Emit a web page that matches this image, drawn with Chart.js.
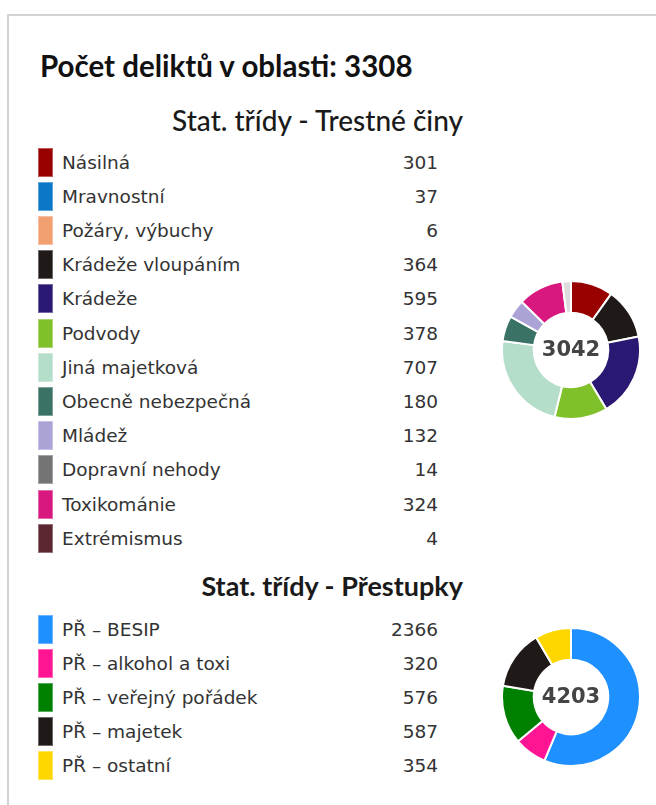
<!DOCTYPE html>
<html>
<head>
<meta charset="utf-8">
<script src="https://cdn.jsdelivr.net/npm/chart.js@4.4.0/dist/chart.umd.min.js"></script>
<style>
  html,body{margin:0;padding:0;background:#fff;}
  body{width:656px;height:805px;overflow:hidden;position:relative;font-family:"DejaVu Sans",sans-serif;}
  .frame{position:absolute;left:7px;top:14px;right:-4px;bottom:-4px;border-left:2px solid #d2d2d2;border-top:2px solid #d2d2d2;}
  .title{position:absolute;left:40px;top:49px;font:bold 29.5px Lato,sans-serif;line-height:34px;color:#111;white-space:nowrap;}
  .head{position:absolute;right:193px;font:500 28px Lato,sans-serif;line-height:32px;color:#1a1a1a;white-space:nowrap;}
  .head.b{font-weight:bold;font-size:27px;}
  .row{position:absolute;left:38px;width:400px;height:30px;display:flex;align-items:center;}
  .sw{width:15px;height:29px;box-sizing:border-box;border:1px solid rgba(255,255,255,0.35);flex:none;}
  .lab{margin-left:9px;font-size:18.5px;color:#333;flex:1;white-space:nowrap;}
  .val{font-size:18.5px;color:#333;text-align:right;white-space:nowrap;}
  canvas{position:absolute;}
</style>
</head>
<body>
<div class="frame"></div>
<div class="title" id="title"></div>
<div class="head" id="h1" style="top:104px">Stat. třídy - Trestné činy</div>
<div class="head b" id="h2" style="top:570px">Stat. třídy - Přestupky</div>
<div id="rows"></div>
<canvas id="c1" width="140" height="140" style="left:501px;top:280px"></canvas>
<canvas id="c2" width="140" height="140" style="left:501px;top:627px"></canvas>
<script>
// ---- data ----
const titleText = "Počet deliktů v oblasti:";
const titleTotal = 3308;

const crimeLabels = ["Násilná","Mravnostní","Požáry, výbuchy","Krádeže vloupáním","Krádeže","Podvody","Jiná majetková","Obecně nebezpečná","Mládež","Dopravní nehody","Toxikománie","Extrémismus"];
const crimeValues = [301,37,6,364,595,378,707,180,132,14,324,4];
const crimeColors = ["#990000","#0a78c6","#f2a072","#1f1a17","#2a1872","#80c02a","#b4ddca","#3b7266","#aba2d6","#747474","#d8177f","#5c2630"];

const offenceLabels = ["PŘ – BESIP","PŘ – alkohol a toxi","PŘ – veřejný pořádek","PŘ – majetek","PŘ – ostatní"];
const offenceValues = [2366,320,576,587,354];
const offenceColors = ["#1e90ff","#ff1493","#008000","#1f1a17","#ffd700"];

const otherColor = "#dcdcdc";
const smallShare = 0.02;

// ---- title ----
document.getElementById('title').textContent = titleText + " " + titleTotal;

// ---- legend rows ----
const rowsEl = document.getElementById('rows');
function addRows(labels, values, colors, firstCenter, pitch){
  labels.forEach((l,i)=>{
    const r = document.createElement('div');
    r.className='row';
    r.style.top = (firstCenter + pitch*i - 15) + 'px';
    r.innerHTML = '<div class="sw" style="background:'+colors[i]+'"></div><div class="lab"></div><div class="val"></div>';
    r.querySelector('.lab').textContent = l;
    r.querySelector('.val').textContent = values[i];
    rowsEl.appendChild(r);
  });
}
addRows(crimeLabels, crimeValues, crimeColors, 162, 34.2);
addRows(offenceLabels, offenceValues, offenceColors, 629, 34);

// ---- doughnuts ----
function grouped(labels, values, colors){
  const total = values.reduce((a,b)=>a+b,0);
  const L=[],V=[],C=[]; let other=0;
  values.forEach((v,i)=>{ if(v/total < smallShare){ other+=v; } else { L.push(labels[i]); V.push(v); C.push(colors[i]); } });
  if(other>0){ L.push("ostatní"); V.push(other); C.push(otherColor); }
  return {L,V,C,total};
}
const centerText = {
  id:'centerText',
  afterDraw(chart){
    const ds = chart.data.datasets[0].data;
    const total = ds.reduce((a,b)=>a+b,0);
    const arc = chart.getDatasetMeta(0).data[0];
    const ctx = chart.ctx;
    ctx.save();
    ctx.font = 'bold 21px "DejaVu Sans"';
    ctx.fillStyle = '#444';
    ctx.textAlign='center';
    ctx.textBaseline='middle';
    ctx.fillText(String(total), arc.x, arc.y+1);
    ctx.restore();
  }
};
function donut(id, labels, values, colors){
  new Chart(document.getElementById(id), {
    type:'doughnut',
    data:{labels, datasets:[{data:values, backgroundColor:colors, borderColor:'#fff', borderWidth:2, hoverOffset:0, offset:0}]},
    options:{responsive:false, animation:false, cutout:'54%', layout:{padding:0},
      plugins:{legend:{display:false}, tooltip:{enabled:false}}},
    plugins:[centerText]
  });
}
const g1 = grouped(crimeLabels, crimeValues, crimeColors);
donut('c1', g1.L, g1.V, g1.C);
donut('c2', offenceLabels, offenceValues, offenceColors);
</script>
</body>
</html>
